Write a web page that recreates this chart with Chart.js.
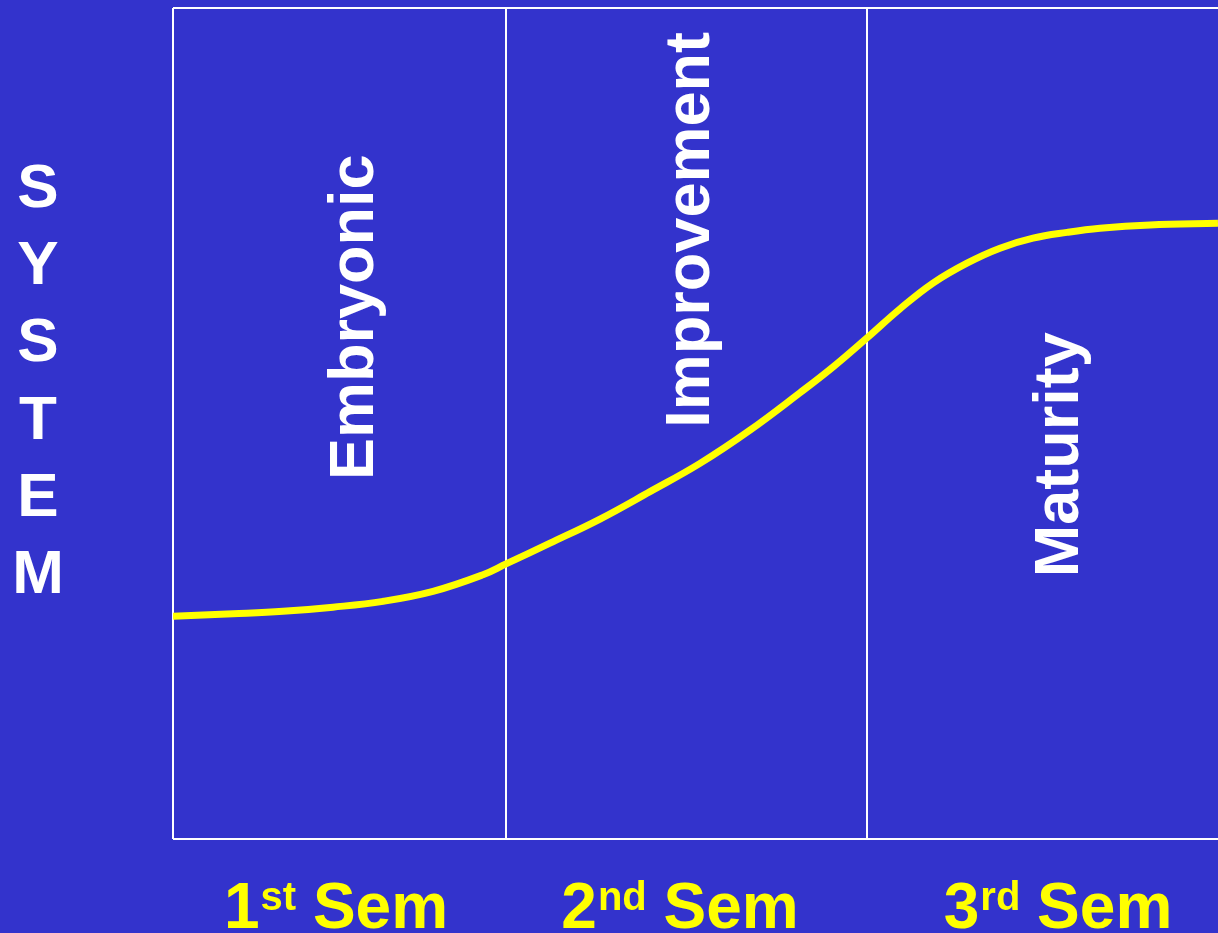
<!DOCTYPE html>
<html>
<head>
<meta charset="utf-8">
<script src="https://cdn.jsdelivr.net/npm/chart.js@4/dist/chart.umd.min.js"></script>
<style>
  html, body { margin: 0; padding: 0; background: #3333CC; overflow: hidden; }
  #wrap { width: 1218px; height: 933px; }
</style>
</head>
<body>
<div id="wrap"><canvas id="c" width="1218" height="933"></canvas></div>
<script>
// ---- Data ----
const timeX    = [0, 60, 110, 160, 210, 260, 310, 333, 377, 427, 477, 527, 577, 627, 660, 694, 727, 760, 794, 827, 860, 894, 927, 977, 1045];
const systemY  = [26.8, 27.1, 27.4, 27.9, 28.6, 29.8, 31.8, 33.1, 35.6, 38.5, 41.8, 45.2, 49.2, 53.7, 56.8, 60.3, 63.8, 66.9, 69.3, 71.1, 72.3, 73.0, 73.5, 73.9, 74.1];
const phaseBounds   = [0, 333, 694];
const phaseNames    = ['Embryonic', 'Improvement', 'Maturity'];
const semesterNums  = ['1', '2', '3'];
const semesterSups  = ['st', 'nd', 'rd'];
const semesterWord  = 'Sem';
const yAxisLetters  = ['S', 'Y', 'S', 'T', 'E', 'M'];
const xMax = 1045, yMin = 0, yMax = 100;

// ---- Annotation anchors (in data units) ----
const phaseLabelX = [200, 536, 905];   // baseline of rotated text
const phaseLabelY = [43.2, 49.5, 31.5]; // start of rotated text
const semLabelX   = [163, 507, 885];    // centre of bottom labels

const FONT = '"Liberation Sans", Arial, Helvetica, sans-serif';

const textPlugin = {
  id: 'textPlugin',
  afterDraw(chart) {
    const ctx = chart.ctx;
    const x = chart.scales.x, y = chart.scales.y;
    const area = chart.chartArea;
    ctx.save();
    // rotated phase labels
    ctx.fillStyle = '#FFFFFF';
    ctx.font = 'bold 63px ' + FONT;
    ctx.textAlign = 'left';
    ctx.textBaseline = 'alphabetic';
    phaseNames.forEach((name, i) => {
      ctx.save();
      ctx.translate(x.getPixelForValue(phaseLabelX[i]), y.getPixelForValue(phaseLabelY[i]));
      ctx.rotate(-Math.PI / 2);
      ctx.fillText(name, 0, 0);
      ctx.restore();
    });
    // SYSTEM stacked letters
    ctx.textAlign = 'center';
    ctx.font = 'bold 62px ' + FONT;
    yAxisLetters.forEach((ch, i) => {
      ctx.fillText(ch, 38, 207 + i * 77.2);
    });
    // bottom semester labels
    ctx.fillStyle = '#FFFF00';
    ctx.textAlign = 'left';
    const base = area.bottom + 89;
    semesterNums.forEach((n, i) => {
      ctx.font = 'bold 64px ' + FONT;
      const wN = ctx.measureText(n).width;
      const wSp = ctx.measureText(' ').width;
      const wW = ctx.measureText(semesterWord).width;
      ctx.font = 'bold 40px ' + FONT;
      const wS = ctx.measureText(semesterSups[i]).width;
      const total = wN + wS + wSp + wW;
      let px = x.getPixelForValue(semLabelX[i]) - total / 2;
      ctx.font = 'bold 64px ' + FONT;
      ctx.fillText(n, px, base);
      px += wN;
      ctx.font = 'bold 40px ' + FONT;
      ctx.fillText(semesterSups[i], px + 1, base - 18);
      px += wS + wSp;
      ctx.font = 'bold 64px ' + FONT;
      ctx.fillText(semesterWord, px, base);
    });
    ctx.restore();
  }
};

new Chart(document.getElementById('c'), {
  type: 'line',
  data: {
    datasets: [{
      data: timeX.map((t, i) => ({ x: t, y: systemY[i] })),
      borderColor: '#FFFF00',
      borderWidth: 7,
      pointRadius: 0,
      tension: 0.4,
      fill: false
    }]
  },
  options: {
    responsive: false,
    animation: false,
    events: [],
    layout: { padding: { left: 173, top: 8, right: 0, bottom: 94 } },
    plugins: { legend: { display: false }, tooltip: { enabled: false } },
    scales: {
      x: {
        type: 'linear', min: 0, max: xMax,
        afterBuildTicks(scale) { scale.ticks = phaseBounds.map(v => ({ value: v })); },
        ticks: { display: false },
        grid: { color: '#FFFFFF', lineWidth: 2, drawTicks: false },
        border: { display: false }
      },
      y: {
        type: 'linear', min: yMin, max: yMax,
        afterBuildTicks(scale) { scale.ticks = [yMin, yMax].map(v => ({ value: v })); },
        ticks: { display: false },
        grid: { color: '#FFFFFF', lineWidth: 2, drawTicks: false },
        border: { display: false }
      }
    }
  },
  plugins: [textPlugin]
});
</script>
</body>
</html>
